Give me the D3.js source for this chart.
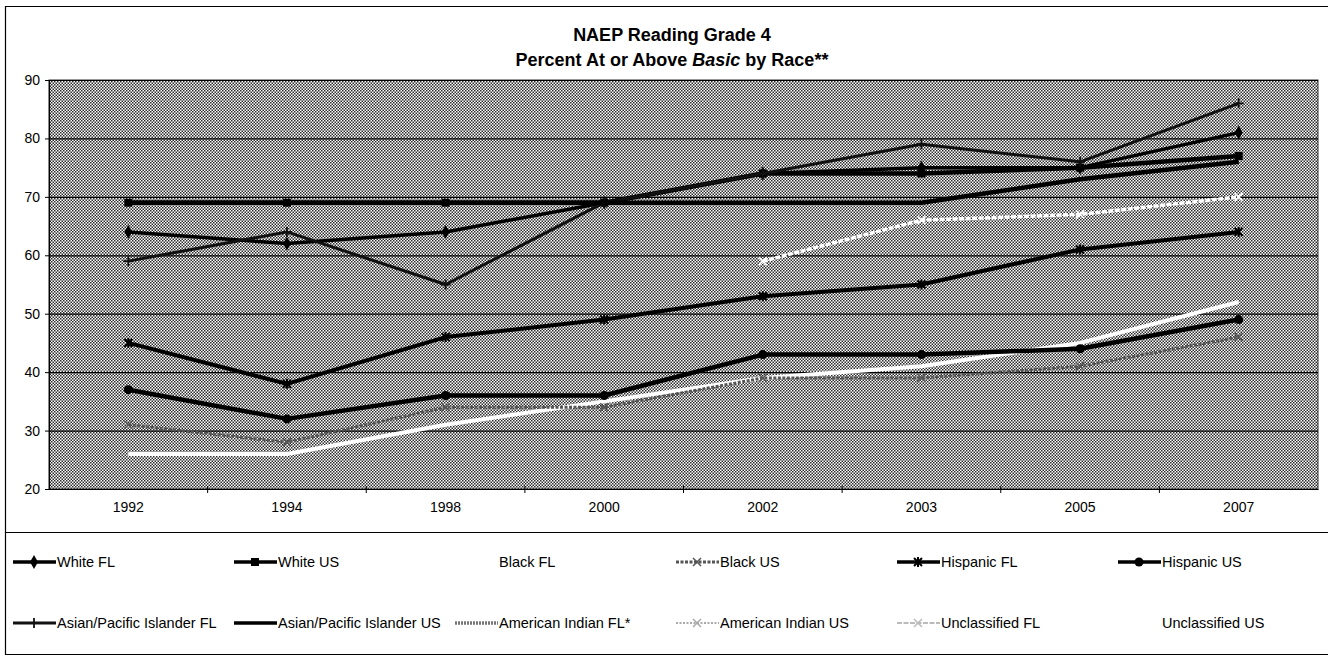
<!DOCTYPE html>
<html>
<head>
<meta charset="utf-8">
<script src="https://cdn.jsdelivr.net/npm/d3@7"></script>
<style>
body { margin: 0; background: #fff; }
text { font-family: "Liberation Sans", Arial, sans-serif; fill: #000; }
</style>
</head>
<body>
<div id="chart"></div>
<script>
// values (percent at or above Basic)
var years       = ['1992', '1994', '1998', '2000', '2002', '2003', '2005', '2007'];
var white_fl    = [64, 62, 64, 69, 74, 75, 75, 81];
var white_us    = [69, 69, 69, 69, 74, 74, 75, 77];
var black_fl    = [26, 26, 31, 35, 39, 41, 45, 52];
var black_us    = [31, 28, 34, 34, 39, 39, 41, 46];
var hispanic_fl = [45, 38, 46, 49, 53, 55, 61, 64];
var hispanic_us = [37, 32, 36, 36, 43, 43, 44, 49];
var asian_fl    = [59, 64, 55, 69, 74, 79, 76, 86];
var asian_us    = [69, 69, 69, 69, 69, 69, 73, 76];
var amind_fl    = [null, null, null, null, null, null, null, null];
var amind_us    = [null, null, null, null, null, null, null, null];
var unclass_fl  = [null, null, null, null, 59, 66, 67, 70];
var unclass_us  = [null, null, null, null, null, null, null, null];
var y_ticks     = [20, 30, 40, 50, 60, 70, 80, 90];

var chart_width  = 1328;
var chart_height = 657;

// name, values, line colour, width, dash, marker (legend colour for the white ones)
var series = [
    { name: 'White FL',                  values: white_fl,    color: '#000', width: 3.5, dash: null,    marker: 'diamond' },
    { name: 'White US',                  values: white_us,    color: '#000', width: 4.5, dash: null,    marker: 'square' },
    { name: 'Black FL',                  values: black_fl,    color: '#fff', width: 4,   dash: null,    marker: null },
    { name: 'Black US',                  values: black_us,    color: '#555', width: 3,   dash: '3,1.5', marker: 'x' },
    { name: 'Hispanic FL',               values: hispanic_fl, color: '#000', width: 4,   dash: null,    marker: 'star' },
    { name: 'Hispanic US',               values: hispanic_us, color: '#000', width: 4.5, dash: null,    marker: 'circle' },
    { name: 'Asian/Pacific Islander FL', values: asian_fl,    color: '#111', width: 3,   dash: null,    marker: 'plus' },
    { name: 'Asian/Pacific Islander US', values: asian_us,    color: '#000', width: 4.5, dash: null,    marker: null },
    { name: 'American Indian FL*',       values: amind_fl,    color: '#777', width: 4,   dash: '2,1',   marker: null },
    { name: 'American Indian US',        values: amind_us,    color: '#ddd', width: 2,   dash: '2,1.5', marker: 'x', legend: '#aaa' },
    { name: 'Unclassified FL',           values: unclass_fl,  color: '#fff', width: 3.5, dash: '5,1.5', marker: 'x', legend: '#bbb' },
    { name: 'Unclassified US',           values: unclass_us,  color: '#fff', width: 3,   dash: null,    marker: null }
];

var svg = d3.select('#chart')
            .append('svg')
            .attr('width', chart_width)
            .attr('height', chart_height);

// checker dither used for the plot area
var defs = svg.append('defs');
var pat = defs.append('pattern')
              .attr('id', 'dither')
              .attr('patternUnits', 'userSpaceOnUse')
              .attr('width', 3)
              .attr('height', 3);
pat.append('rect').attr('width', 3).attr('height', 3).attr('fill', '#ffffff');
pat.append('rect').attr('width', 1.5).attr('height', 1.5).attr('fill', '#2c2c2c');
pat.append('rect').attr('x', 1.5).attr('y', 1.5).attr('width', 1.5).attr('height', 1.5).attr('fill', '#2c2c2c');

var plot = { left: 49, top: 80, right: 1318, bottom: 489 };

var x_scale = d3.scaleBand()
                .domain(years)
                .range([plot.left, plot.right]);

var y_scale = d3.scaleLinear()
                .domain([20, 90])
                .range([plot.bottom, plot.top]);

// outer frame
svg.append('path')
   .attr('d', 'M5.5,654.5 V6.5 H1328 M5,532.5 H1328 M5,654.5 H1328')
   .attr('fill', 'none')
   .attr('stroke', '#000')
   .attr('stroke-width', 1.2);

// plot area
svg.append('rect')
   .attr('x', plot.left)
   .attr('y', plot.top)
   .attr('width', plot.right - plot.left)
   .attr('height', plot.bottom - plot.top)
   .attr('fill', 'url(#dither)')
   .attr('stroke', '#333')
   .attr('stroke-width', 1);

// gridlines
svg.append('g')
   .attr('transform', 'translate(' + plot.left + ',0)')
   .call(d3.axisLeft(y_scale).tickValues(y_ticks).tickSize(-(plot.right - plot.left)).tickFormat(''))
   .call(g => g.select('.domain').remove())
   .selectAll('line')
   .attr('stroke', '#000')
   .attr('stroke-width', 1.2);

// y axis
var y_axis = svg.append('g')
   .attr('transform', 'translate(' + plot.left + ',0)')
   .call(d3.axisLeft(y_scale).tickValues(y_ticks).tickSize(4).tickPadding(5));
y_axis.select('.domain').attr('stroke', '#000').attr('stroke-width', 1.2);
y_axis.selectAll('text').style('font-size', '14px').attr('fill', '#000');
y_axis.selectAll('line').attr('stroke', '#000');

// x axis: labels centred in each band, ticks on band edges
var x_axis = svg.append('g')
   .attr('transform', 'translate(0,' + plot.bottom + ')')
   .call(d3.axisBottom(x_scale).tickSize(0).tickPadding(13));
x_axis.select('.domain').attr('stroke', '#000').attr('stroke-width', 1.2);
x_axis.selectAll('text').style('font-size', '14px').attr('fill', '#000');

svg.append('g')
   .selectAll('line')
   .data(years.slice(1))
   .enter()
   .append('line')
   .attr('x1', (d) => x_scale(d))
   .attr('x2', (d) => x_scale(d))
   .attr('y1', plot.bottom - 3)
   .attr('y2', plot.bottom + 4)
   .attr('stroke', '#000');

// markers
function drawMarker(g, type, cx, cy, color) {
    var s = 4;
    if (type === 'diamond') {
        g.append('path').attr('d', d3.symbol(d3.symbolDiamond, 55)()).attr('transform', 'translate(' + cx + ',' + cy + ')').attr('fill', color);
    } else if (type === 'square') {
        g.append('rect').attr('x', cx - 4).attr('y', cy - 4).attr('width', 8).attr('height', 8).attr('fill', color);
    } else if (type === 'circle') {
        g.append('circle').attr('cx', cx).attr('cy', cy).attr('r', 4.5).attr('fill', color);
    } else if (type === 'x') {
        g.append('path').attr('d', 'M' + (cx - s) + ',' + (cy - s) + 'L' + (cx + s) + ',' + (cy + s) + 'M' + (cx - s) + ',' + (cy + s) + 'L' + (cx + s) + ',' + (cy - s))
         .attr('stroke', color).attr('stroke-width', 1.5).attr('fill', 'none');
    } else if (type === 'plus') {
        g.append('path').attr('d', 'M' + (cx - 5) + ',' + cy + 'H' + (cx + 5) + 'M' + cx + ',' + (cy - 5) + 'V' + (cy + 5))
         .attr('stroke', color).attr('stroke-width', 1.8).attr('fill', 'none');
    } else if (type === 'star') {
        g.append('path').attr('d', 'M' + (cx - s) + ',' + (cy - s) + 'L' + (cx + s) + ',' + (cy + s) + 'M' + (cx - s) + ',' + (cy + s) + 'L' + (cx + s) + ',' + (cy - s) + 'M' + cx + ',' + (cy - 5) + 'V' + (cy + 5))
         .attr('stroke', color).attr('stroke-width', 2).attr('fill', 'none');
    }
}

var line = d3.line()
             .defined((d) => d.v !== null)
             .x((d) => x_scale(d.year) + x_scale.bandwidth() / 2)
             .y((d) => y_scale(d.v));

series.forEach((s) => {
    var pts = years.map((yr, i) => ({ year: yr, v: s.values[i] }));
    var g = svg.append('g');
    g.append('path')
     .datum(pts)
     .attr('d', line)
     .attr('fill', 'none')
     .attr('stroke', s.color)
     .attr('stroke-width', s.width)
     .attr('stroke-dasharray', s.dash)
     .attr('stroke-linejoin', 'round');
    if (s.marker) {
        pts.filter((d) => d.v !== null).forEach((d) => {
            drawMarker(g, s.marker, x_scale(d.year) + x_scale.bandwidth() / 2, y_scale(d.v), s.color);
        });
    }
});

// title
var title = svg.append('text')
   .attr('x', 672)
   .attr('text-anchor', 'middle')
   .style('font-size', '18px')
   .style('font-weight', 'bold');
title.append('tspan').attr('x', 672).attr('y', 41).text('NAEP Reading Grade 4');
var t2 = title.append('tspan').attr('x', 672).attr('y', 66);
t2.append('tspan').text('Percent At or Above ');
t2.append('tspan').style('font-style', 'italic').text('Basic');
t2.append('tspan').text('  by Race**');

// legend
var col_x = [13, 234, 455, 676, 897, 1118];
var row_y = [562, 623];
series.forEach((s, i) => {
    var lx = col_x[i % 6];
    var ly = row_y[Math.floor(i / 6)];
    var c = s.legend || s.color;
    var g = svg.append('g');
    g.append('line')
     .attr('x1', lx).attr('x2', lx + 43)
     .attr('y1', ly).attr('y2', ly)
     .attr('stroke', c)
     .attr('stroke-width', s.legend ? 2 : Math.min(s.width, 3.5))
     .attr('stroke-dasharray', s.dash);
    if (s.marker) drawMarker(g, s.marker, lx + 21, ly, c);
    g.append('text')
     .attr('x', lx + 44)
     .attr('y', ly + 5)
     .style('font-size', '14.5px')
     .text(s.name);
});
</script>
</body>
</html>
